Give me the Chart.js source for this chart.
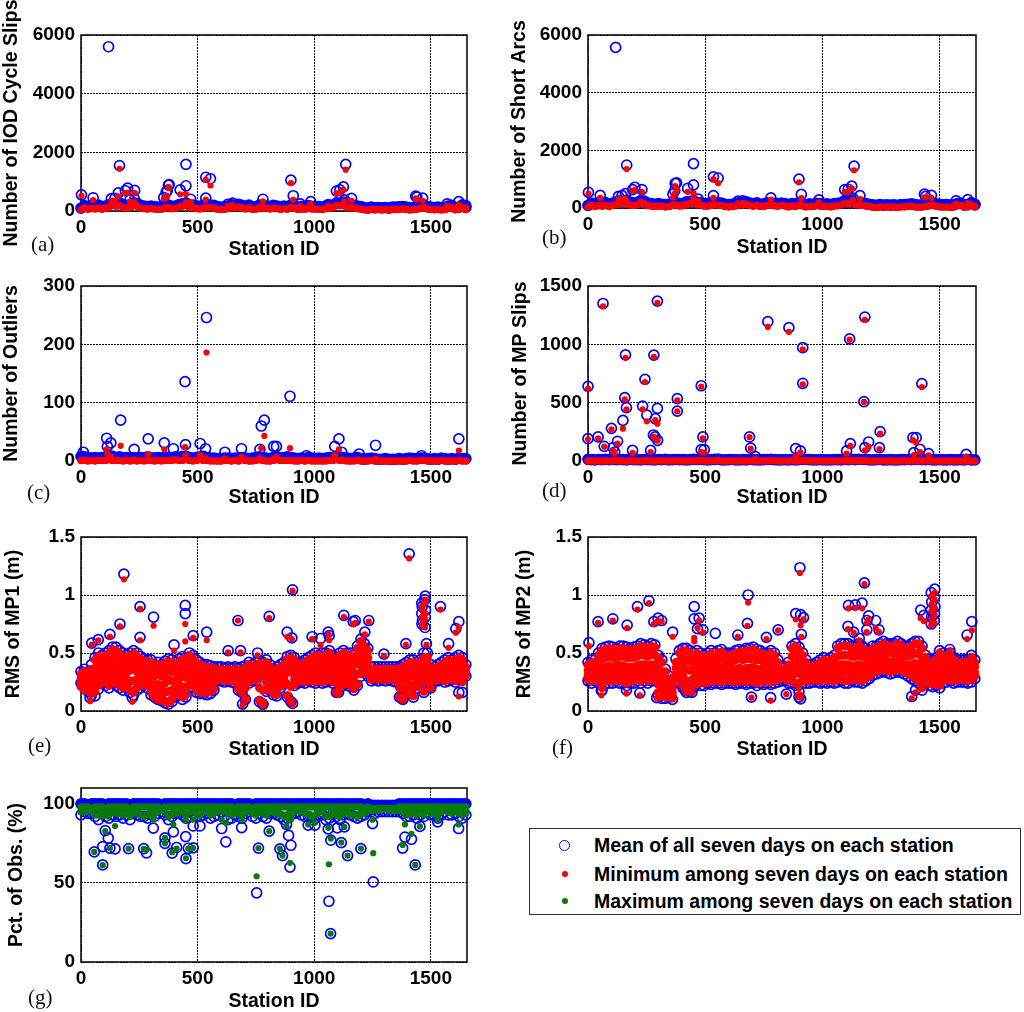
<!DOCTYPE html>
<html>
<head>
<meta charset="utf-8">
<script src="https://cdn.jsdelivr.net/npm/chart.js@4"></script>
<style>
  html, body { margin: 0; background: #fff; width: 1024px; height: 1012px; overflow: hidden; }
  canvas { position: absolute; }
  .tag { position: absolute; font: 21px "Liberation Serif", serif; line-height: 24px; color: #111; }
  #legend { position: absolute; left: 529px; top: 828px; width: 490px; height: 85px; border: 1.5px solid #333; background: #fff; }
  #legend div { position: absolute; left: 64px; font: bold 19.5px "Liberation Sans", Arial, sans-serif; line-height: 22px; white-space: nowrap; color: #000; }
  #legend i { position: absolute; border-radius: 50%; box-sizing: border-box; }
</style>
</head>
<body>
<canvas id="chartA" width="490" height="265" style="left:0;top:0"></canvas>
<canvas id="chartB" width="490" height="265" style="left:500px;top:0"></canvas>
<canvas id="chartC" width="490" height="250" style="left:0;top:265px"></canvas>
<canvas id="chartD" width="490" height="250" style="left:500px;top:265px"></canvas>
<canvas id="chartE" width="490" height="250" style="left:0;top:515px"></canvas>
<canvas id="chartF" width="490" height="250" style="left:500px;top:515px"></canvas>
<canvas id="chartG" width="490" height="257" style="left:0;top:765px"></canvas>
<div id="legend"></div>
<script>
const xTicks = [0, 500, 1000, 1500];
const legendNames = ["Mean of all seven days on each station", "Minimum among seven days on each station", "Maximum among seven days on each station"];

// one entry stands for a small group of neighbouring stations
const stationIds = [0,15,30,45,60,75,90,105,120,135,
  150,165,180,195,210,225,240,255,270,285,
  300,315,330,345,360,375,390,405,420,435,
  450,465,480,495,510,525,540,555,570,585,
  600,615,630,645,660,675,690,705,720,735,
  750,765,780,795,810,825,840,855,870,885,
  900,915,930,945,960,975,990,1005,1020,1035,
  1050,1065,1080,1095,1110,1125,1140,1155,1170,1185,
  1200,1215,1230,1245,1260,1275,1290,1305,1320,1335,
  1350,1365,1380,1395,1410,1425,1440,1455,1470,1485,
  1500,1515,1530,1545,1560,1575,1590,1605,1620,1635,1650];

// (a) IOD cycle slips
const aMean = [100,180,150,190,170,200,150,170,220,260,240,280,210,190,200,280,260,190,170,150,
  170,150,130,140,180,200,160,170,220,240,280,210,200,170,160,190,210,200,190,150,
  130,140,170,210,200,230,190,160,200,140,150,200,180,170,160,190,170,130,170,150,
  200,170,130,150,140,180,160,140,150,130,170,180,200,280,260,300,210,200,190,170,
  150,120,100,130,110,120,110,120,100,130,130,140,150,130,110,120,140,170,200,150,
  130,120,130,110,120,170,190,120,130,210,120];
const aMin = [40,110,60,90,70,100,60,100,130,200,170,190,110,100,120,220,160,90,80,70,
  80,70,50,60,100,120,80,90,140,170,210,120,110,80,70,100,120,110,100,60,
  50,60,80,120,110,140,100,70,110,60,60,110,100,90,70,100,90,50,80,60,
  120,90,50,60,60,100,70,60,60,50,80,90,120,190,180,210,120,110,100,80,
  60,40,30,50,40,50,40,50,30,50,50,60,70,50,40,50,60,90,110,70,
  50,40,50,40,50,90,100,40,50,120,50];
const aOutX = [118,165,2,52,160,200,190,230,130,145,375,378,365,370,355,425,450,450,470,535,555,535,780,650,630,900,910,940,985,1095,1110,1125,1135,1130,1160,1060,1435,1440,1465,1570,1620,1650,230,210];
const aOutMean = [5600,1550,550,450,620,780,690,700,420,430,880,900,640,700,460,720,860,1590,400,1150,1100,440,400,270,230,1050,520,240,320,680,720,820,1590,380,430,220,510,470,440,240,320,180,400,380];
const aOutMin = [100,1440,520,370,500,620,620,620,330,340,820,780,440,520,420,570,580,300,300,1070,870,390,330,200,180,950,380,170,240,600,620,730,1410,330,350,180,430,400,350,180,220,120,300,320];

// (b) short arcs
const bMean = [90,170,140,180,160,190,140,170,210,250,230,270,200,180,190,260,240,170,150,130,
  150,130,120,130,170,190,150,160,210,230,260,190,180,150,150,170,190,180,170,130,
  120,130,160,190,180,210,170,150,180,130,140,180,170,160,150,170,150,120,150,140,
  180,150,120,140,130,160,150,130,140,120,150,160,180,260,240,280,190,180,170,150,
  130,110,90,120,100,110,100,110,90,120,120,130,140,120,100,110,130,150,180,140,
  120,110,120,100,110,150,170,110,120,190,110];
const bMin = [40,100,50,80,60,90,50,90,120,190,160,180,100,90,110,200,150,80,70,60,
  70,60,40,50,90,110,70,80,130,160,190,110,100,70,60,90,110,100,90,50,
  40,50,70,110,100,130,90,60,100,50,50,100,90,80,60,90,80,40,70,50,
  110,80,40,50,50,90,60,50,50,40,70,80,110,170,160,190,110,100,90,70,
  50,30,20,40,30,40,30,40,20,40,40,50,60,40,30,40,50,80,100,60,
  40,30,40,30,40,80,90,30,40,110,40];
const bOutX = [118,165,2,52,160,200,190,230,130,145,372,378,362,370,425,450,450,470,535,555,535,780,640,660,900,910,985,1095,1110,1125,1135,1130,1160,1435,1440,1465,1570,1620,1650];
const bOutMean = [5570,1490,540,440,500,720,640,640,400,430,850,870,480,600,680,800,1540,310,1080,1040,430,350,240,250,1000,470,280,640,650,760,1450,340,430,480,400,440,250,290,130];
const bOutMin = [100,1350,500,350,330,620,600,560,300,320,760,650,360,500,560,520,300,250,1000,860,350,290,170,180,890,340,200,560,560,680,1310,280,310,370,370,350,150,170,80];

// (c) outliers
const cMean = [8,7,6,5,6,5,6,7,9,8,6,7,5,6,5,6,5,6,5,7,
  6,5,6,5,7,6,6,7,6,8,8,6,5,6,7,8,6,5,5,4,
  4,5,5,4,5,4,6,5,4,5,6,7,6,5,4,6,7,5,6,7,
  6,5,4,5,4,6,5,4,5,4,5,6,6,8,7,6,5,4,5,6,
  4,3,4,5,4,3,3,4,3,3,3,4,3,4,5,4,4,5,5,4,
  3,4,3,5,4,3,4,3,5,4,4];
const cMin = [1,1,0,1,0,1,1,1,2,1,1,1,0,1,0,1,0,1,0,1,
  1,0,1,0,1,1,1,2,1,1,2,1,0,1,2,1,1,0,0,0,
  0,1,1,0,1,0,2,1,0,0,1,2,1,0,0,1,2,1,1,1,
  1,0,0,1,0,1,0,0,0,0,0,1,1,2,1,1,0,0,0,1,
  0,0,0,1,0,0,0,0,0,0,0,0,0,0,1,0,0,1,1,0,
  0,0,0,1,0,0,0,0,1,0,0];
const cOutX = [538,446,896,170,786,773,1106,1620,1263,110,113,128,288,357,228,396,448,511,534,617,688,767,838,826,1088,1118,1193,10,967,1460];
const cOutMean = [246,136,111,70,70,60,38,38,27,39,25,31,38,31,20,21,28,30,21,15,21,20,25,25,25,15,12,15,9,9];
const cOutMin = [186,24,22,26,43,22,20,18,4,20,12,8,12,20,3,3,10,10,5,4,7,5,7,4,10,3,3,3,2,2];

// (d) MP slips
const dMean = [14,12,10,13,11,14,12,15,11,13,12,10,14,12,11,10,13,12,11,10,
  13,11,14,10,12,13,11,12,10,12,14,13,15,11,9,12,14,16,10,9,
  11,13,10,9,12,10,13,12,9,10,11,13,15,12,10,9,11,10,12,9,
  11,14,13,12,10,9,11,10,9,10,11,12,10,13,11,14,12,15,13,14,
  10,9,11,13,10,9,12,10,9,11,12,13,11,14,13,12,11,13,10,9,
  11,9,10,12,9,10,11,9,13,10,9];
const dMin = [2,1,0,2,1,3,1,3,2,2,2,1,2,1,1,0,2,2,1,0,
  2,1,2,0,1,2,1,2,0,1,3,2,5,1,0,2,3,5,1,0,
  1,2,0,0,2,0,2,2,0,1,1,2,4,2,1,0,1,0,2,0,
  1,3,2,2,1,0,1,0,0,1,1,2,1,3,1,4,2,3,2,3,
  0,0,1,2,1,0,2,0,0,1,2,2,1,3,2,2,1,2,1,0,
  1,0,1,2,0,1,1,0,2,1,0];
const dOutX = [64,296,0,160,281,243,157,164,233,251,287,296,149,100,381,381,483,0,43,69,126,107,114,279,286,297,267,190,490,483,496,689,694,714,767,857,916,916,886,906,1116,1181,1177,1424,1246,1243,1119,1103,1197,1181,1386,1400,1416,1390,1453,1613];
const dOutMean = [1350,1370,640,910,908,700,543,457,470,394,362,451,348,280,534,428,645,191,206,126,169,114,77,223,206,177,91,91,206,97,97,206,111,37,1194,1143,971,666,106,86,1046,1234,509,663,251,114,149,86,163,114,200,200,100,71,63,57];
const dOutMin = [1325,1355,620,885,893,677,528,443,443,340,350,320,277,271,520,425,637,186,194,123,149,86,66,209,197,174,77,69,194,77,71,204,106,20,1149,1106,957,657,40,71,1040,1209,506,634,234,103,129,63,123,91,180,157,77,50,49,37];

// (e) RMS of MP1
const eMeanHi = [.34,.36,.33,.4,.46,.5,.48,.5,.52,.55,.55,.52,.5,.48,.5,.52,.5,.47,.45,.44,
  .44,.4,.42,.4,.43,.45,.44,.42,.45,.47,.46,.5,.48,.44,.42,.4,.4,.39,.38,.38,
  .38,.37,.38,.37,.38,.37,.38,.39,.42,.4,.42,.43,.42,.44,.4,.36,.38,.4,.42,.47,
  .48,.46,.42,.42,.44,.46,.48,.5,.48,.5,.5,.52,.48,.46,.5,.52,.5,.5,.48,.56,
  .62,.58,.54,.38,.38,.38,.38,.38,.38,.38,.38,.38,.4,.42,.44,.44,.42,.44,.5,.5,
  .4,.38,.4,.42,.44,.46,.44,.46,.48,.46,.4];
const eMeanLo = [.24,.2,.17,.14,.13,.19,.24,.22,.2,.24,.22,.2,.18,.2,.16,.14,.18,.2,.24,.2,
  .14,.12,.1,.09,.07,.06,.08,.12,.14,.1,.12,.2,.2,.16,.15,.15,.14,.15,.18,.26,
  .26,.25,.26,.25,.24,.18,.16,.1,.24,.26,.26,.08,.06,.17,.18,.14,.13,.2,.24,.12,
  .08,.22,.24,.25,.24,.26,.25,.24,.26,.24,.25,.26,.24,.16,.2,.22,.24,.21,.18,.22,
  .3,.34,.3,.26,.27,.26,.27,.26,.27,.26,.25,.12,.1,.15,.17,.12,.2,.24,.16,.28,
  .2,.26,.26,.27,.25,.26,.27,.25,.27,.16,.3];
const eMinA = [.32,.34,.3,.36,.44,.47,.46,.48,.5,.53,.52,.5,.47,.46,.48,.5,.47,.45,.43,.42,
  .42,.38,.4,.38,.41,.43,.42,.4,.42,.45,.44,.48,.45,.42,.4,.38,.38,.37,.36,.36,
  .36,.35,.36,.35,.36,.35,.36,.37,.4,.38,.4,.41,.4,.42,.38,.34,.36,.38,.4,.45,
  .46,.44,.4,.4,.42,.44,.46,.48,.46,.48,.48,.5,.46,.44,.48,.5,.48,.48,.46,.54,
  .6,.56,.52,.36,.36,.36,.36,.36,.36,.36,.36,.36,.38,.4,.42,.42,.4,.42,.46,.46,
  .38,.36,.38,.4,.42,.44,.42,.44,.46,.44,.38];
const eMinB = [.28,.3,.27,.3,.37,.4,.39,.42,.43,.46,.45,.44,.4,.39,.42,.43,.4,.38,.37,.36,
  .35,.3,.32,.3,.33,.36,.34,.33,.36,.38,.37,.4,.38,.36,.34,.33,.33,.33,.33,.33,
  .33,.33,.33,.32,.33,.32,.33,.34,.36,.34,.36,.36,.35,.37,.34,.3,.32,.34,.36,.39,
  .4,.38,.36,.36,.38,.39,.4,.42,.41,.42,.42,.44,.4,.38,.41,.43,.41,.41,.4,.48,
  .54,.51,.46,.33,.33,.33,.33,.33,.33,.33,.33,.32,.33,.34,.36,.36,.35,.37,.4,.4,
  .34,.33,.34,.36,.37,.38,.37,.38,.4,.38,.35];
const eMinC = [.25,.26,.24,.25,.3,.33,.33,.35,.36,.38,.38,.37,.34,.33,.35,.36,.34,.32,.31,.3,
  .27,.22,.23,.21,.24,.27,.26,.26,.28,.3,.29,.33,.31,.28,.27,.27,.28,.3,.3,.3,
  .31,.3,.3,.3,.3,.29,.3,.31,.32,.31,.32,.3,.3,.32,.3,.27,.28,.3,.32,.33,
  .34,.33,.31,.32,.33,.34,.34,.36,.35,.36,.36,.38,.34,.32,.35,.36,.35,.34,.33,.41,
  .47,.45,.41,.31,.31,.31,.31,.3,.31,.3,.3,.27,.27,.28,.3,.3,.3,.32,.34,.34,
  .3,.3,.31,.32,.33,.33,.33,.33,.34,.32,.33];
const eMinD = [.21,.18,.2,.15,.17,.22,.26,.24,.22,.26,.24,.22,.2,.22,.18,.16,.2,.22,.26,.22,
  .16,.12,.1,.09,.08,.07,.1,.14,.16,.12,.14,.22,.22,.18,.16,.16,.16,.17,.19,.27,
  .27,.26,.27,.26,.25,.19,.16,.1,.25,.27,.27,.09,.07,.18,.19,.15,.14,.21,.25,.13,
  .08,.23,.25,.26,.25,.27,.26,.25,.27,.25,.26,.27,.25,.16,.2,.23,.25,.22,.19,.23,
  .32,.36,.32,.27,.28,.27,.28,.27,.28,.27,.26,.12,.1,.15,.17,.13,.21,.25,.17,.29,
  .2,.27,.27,.28,.26,.27,.28,.26,.28,.25,.31];
const eMinE = [.23,.22,.22,.2,.23,.27,.29,.29,.29,.32,.31,.29,.27,.27,.26,.26,.27,.27,.28,.26,
  .21,.17,.16,.15,.16,.17,.18,.2,.22,.21,.21,.27,.26,.23,.21,.21,.22,.24,.25,.28,
  .29,.28,.28,.28,.27,.24,.23,.2,.28,.29,.29,.2,.18,.25,.25,.21,.21,.25,.28,.23,
  .21,.28,.28,.29,.29,.3,.3,.3,.31,.3,.31,.32,.29,.24,.27,.29,.3,.28,.26,.32,
  .39,.4,.36,.29,.29,.29,.29,.28,.29,.28,.28,.2,.19,.21,.23,.21,.25,.28,.25,.31,
  .25,.28,.29,.3,.29,.3,.3,.29,.31,.28,.32];
const eOutX = [184,253,311,447,447,167,539,673,807,907,884,904,991,1027,1060,1064,1127,1167,1176,1234,1217,1407,1541,1620,1607,1481,1393,1576,481,46,74,124,253,399,631,684,757,1299,1620,220,39,693,779,907,1104,1379,1461,1476,1463,1474,1461,1477,1464,1476,1462,1475];
const eOutMean = [1.18,.9,.81,.91,.84,.75,.68,.78,.815,1.045,.68,.63,.64,.625,.68,.65,.825,.77,.78,.78,.68,1.355,.9,.77,.71,.58,.58,.58,.65,.585,.615,.66,.635,.57,.52,.52,.5,.49,.16,.115,.115,.06,.06,.065,.16,.11,.93,.99,.9,.96,.84,.87,.78,.81,.75,.72];
const eOutMin = [1.135,.88,.735,.6,.75,.73,.61,.78,.8,1.035,.64,.62,.62,.57,.66,.61,.81,.75,.76,.77,.66,1.315,.875,.72,.675,.57,.57,.545,.63,.57,.61,.64,.61,.52,.505,.505,.48,.475,.125,.08,.085,.05,.045,.055,.14,.095,.9,.96,.87,.93,.81,.84,.76,.79,.74,.72];

// (f) RMS of MP2
const fMeanHi = [.42,.44,.44,.5,.54,.55,.56,.55,.54,.56,.56,.55,.54,.55,.56,.58,.57,.56,.58,.57,
  .48,.44,.36,.3,.27,.45,.52,.54,.54,.52,.5,.52,.5,.48,.5,.52,.5,.52,.53,.5,
  .5,.5,.52,.53,.52,.54,.54,.55,.53,.52,.5,.5,.52,.5,.44,.38,.38,.42,.56,.58,
  .55,.5,.44,.4,.4,.42,.44,.46,.44,.46,.48,.56,.58,.58,.58,.56,.56,.58,.56,.54,
  .52,.56,.56,.58,.6,.58,.58,.58,.6,.58,.56,.56,.58,.6,.6,.56,.48,.44,.44,.46,
  .52,.5,.48,.5,.46,.44,.44,.44,.44,.48,.44];
const fMeanLo = [.26,.24,.26,.24,.18,.24,.24,.24,.26,.24,.24,.22,.24,.24,.26,.24,.26,.24,.26,.26,
  .14,.11,.11,.12,.1,.26,.24,.2,.16,.17,.2,.26,.22,.22,.24,.23,.24,.24,.23,.24,
  .24,.24,.23,.24,.24,.23,.24,.24,.22,.24,.23,.24,.23,.24,.25,.26,.26,.24,.24,.22,
  .12,.24,.24,.24,.25,.25,.24,.25,.24,.25,.24,.25,.26,.24,.24,.26,.25,.25,.24,.26,
  .28,.31,.32,.33,.34,.33,.32,.33,.34,.33,.32,.3,.28,.26,.24,.18,.24,.22,.21,.22,
  .2,.24,.25,.26,.24,.25,.25,.25,.24,.25,.28];
const fMinA = [.4,.42,.42,.48,.52,.53,.54,.53,.52,.54,.54,.53,.52,.53,.54,.56,.55,.54,.56,.55,
  .46,.42,.34,.27,.24,.42,.5,.52,.52,.5,.48,.5,.48,.46,.48,.5,.48,.5,.51,.48,
  .48,.48,.5,.51,.5,.52,.52,.53,.51,.5,.48,.48,.5,.48,.42,.36,.36,.4,.54,.56,
  .53,.48,.42,.38,.38,.4,.42,.44,.42,.44,.46,.54,.56,.56,.56,.54,.54,.56,.54,.52,
  .5,.54,.54,.56,.58,.56,.56,.56,.58,.56,.54,.54,.56,.58,.58,.54,.46,.42,.42,.44,
  .5,.48,.46,.48,.44,.42,.42,.42,.42,.46,.42];
const fMinB = [.35,.37,.37,.42,.45,.46,.47,.46,.45,.47,.47,.46,.46,.46,.47,.49,.48,.47,.49,.48,
  .38,.34,.27,.22,.2,.37,.43,.45,.44,.43,.42,.44,.42,.41,.42,.44,.42,.44,.45,.42,
  .42,.43,.44,.45,.44,.45,.45,.46,.44,.44,.42,.42,.44,.42,.37,.33,.33,.36,.47,.48,
  .45,.42,.38,.35,.35,.36,.38,.39,.38,.39,.41,.47,.48,.48,.48,.47,.47,.48,.47,.46,
  .45,.48,.48,.5,.51,.5,.5,.5,.51,.5,.47,.47,.48,.5,.49,.46,.4,.37,.37,.39,
  .43,.42,.4,.42,.39,.37,.37,.38,.38,.41,.38];
const fMinC = [.31,.32,.32,.35,.37,.38,.39,.38,.38,.39,.39,.38,.38,.38,.39,.4,.4,.39,.4,.4,
  .3,.26,.2,.17,.16,.32,.36,.38,.36,.35,.35,.37,.35,.34,.35,.37,.35,.37,.37,.35,
  .35,.36,.36,.37,.36,.37,.37,.38,.36,.36,.35,.35,.37,.35,.32,.3,.3,.31,.39,.4,
  .36,.35,.33,.31,.31,.32,.33,.34,.33,.34,.35,.39,.4,.4,.4,.39,.39,.4,.39,.39,
  .39,.42,.42,.43,.44,.43,.42,.43,.44,.43,.4,.39,.4,.41,.4,.37,.33,.31,.31,.33,
  .36,.35,.34,.35,.33,.32,.32,.33,.33,.35,.33];
const fMinD = [.27,.26,.28,.26,.2,.26,.26,.26,.28,.26,.26,.24,.26,.26,.28,.26,.28,.26,.28,.28,
  .16,.12,.12,.13,.11,.28,.26,.22,.17,.18,.22,.28,.24,.24,.26,.25,.26,.26,.25,.26,
  .26,.26,.25,.26,.26,.25,.26,.26,.24,.26,.25,.26,.25,.26,.27,.28,.28,.26,.26,.24,
  .13,.26,.26,.26,.27,.27,.26,.27,.26,.27,.26,.27,.28,.26,.26,.28,.27,.27,.26,.28,
  .3,.33,.34,.35,.36,.35,.34,.35,.36,.35,.34,.32,.3,.28,.26,.2,.26,.24,.23,.24,
  .22,.26,.27,.28,.26,.27,.27,.27,.26,.27,.3];
const fMinE = [.29,.29,.3,.3,.28,.32,.32,.32,.33,.32,.32,.31,.32,.32,.33,.33,.34,.32,.34,.34,
  .23,.19,.16,.15,.13,.3,.31,.3,.26,.26,.28,.32,.29,.29,.3,.31,.3,.31,.31,.3,
  .3,.31,.3,.31,.31,.31,.31,.32,.3,.31,.3,.3,.31,.3,.29,.29,.29,.28,.32,.32,
  .24,.3,.29,.28,.29,.29,.29,.3,.29,.3,.3,.33,.34,.33,.33,.33,.33,.33,.32,.33,
  .34,.37,.38,.39,.4,.39,.38,.39,.4,.39,.37,.35,.35,.34,.33,.28,.29,.27,.27,.28,
  .29,.3,.3,.31,.29,.29,.29,.3,.29,.31,.31];
const fOutX = [4,43,106,167,211,260,281,299,314,361,453,453,474,467,490,543,683,680,639,811,761,904,886,907,919,910,1179,1111,1140,1169,1109,1133,1197,1190,1189,1227,1241,1157,1419,1433,1617,1637,1543,1381,1397,57,221,164,293,697,779,846,907,900,414,443,1464,1479,1466,1478,1464,1480,1465,1478,1464,1477];
const fOutMean = [.59,.77,.795,.74,.9,.95,.77,.8,.78,.68,.9,.795,.8,.71,.7,.67,1,.755,.655,.7,.635,1.235,.84,.83,.805,.66,1.105,.91,.915,.93,.73,.68,.82,.78,.7,.78,.7,.625,.87,.825,.655,.77,.53,.125,.18,.175,.155,.18,.115,.12,.115,.145,.105,.165,.18,.16,1.02,1.05,.94,.98,.87,.9,.81,.84,.75,.78];
const fOutMin = [.56,.76,.78,.715,.875,.93,.75,.78,.77,.64,.63,.6,.78,.715,.675,.36,.935,.735,.64,.695,.62,1.19,.79,.74,.79,.64,1.095,.885,.89,.885,.705,.675,.79,.76,.68,.715,.68,.61,.8,.775,.62,.695,.52,.11,.16,.135,.135,.15,.11,.115,.09,.145,.115,.195,.17,.155,.99,1.02,.92,.96,.86,.89,.79,.83,.74,.76];

// (g) percent of observations
const gMeanHi = [100,100,99,100,100,100,100,99,100,100,100,100,100,100,99,100,100,100,100,100,
  100,100,100,99,100,100,100,100,100,100,100,100,100,100,100,100,100,100,100,100,
  100,100,100,100,99,100,100,100,100,99,100,100,100,100,100,100,100,100,100,100,
  100,100,100,100,100,100,100,100,100,100,100,100,100,100,100,100,100,100,100,100,
  100,99,100,99,99,99,99,99,99,99,99,100,100,100,100,100,100,100,100,100,
  100,100,100,100,100,100,100,100,100,100,100];
const gMeanLo = [93,95,94,94,92,90,94,92,91,93,92,93,91,93,90,94,93,92,92,91,
  93,92,94,95,93,90,92,94,94,93,91,95,94,92,92,93,94,91,92,93,
  95,92,90,91,93,92,91,94,95,92,91,94,92,91,94,94,93,92,90,91,
  93,94,95,93,92,92,90,91,93,93,90,91,94,92,90,93,94,93,92,91,
  92,93,95,95,94,95,95,95,95,95,95,95,94,92,92,93,91,93,92,95,
  93,93,91,93,95,93,93,94,92,91,93];
const gMaxA = [98,98,98,97,98,98,98,97,98,98,98,98,98,98,97,98,98,98,98,98,
  98,98,98,97,98,98,98,98,98,98,98,98,98,98,98,98,98,98,98,98,
  98,98,98,98,97,98,98,98,98,97,98,98,98,98,98,98,98,98,98,98,
  98,98,98,98,98,98,98,98,98,98,98,98,98,98,98,98,98,98,98,98,
  98,97,98,97,97,97,97,97,97,97,97,98,98,98,98,98,98,98,98,98,
  98,98,98,98,98,98,98,98,98,98,98];
const gMaxB = [95,95,96,96,93,93,95,93,93,95,94,94,93,95,92,95,94,93,92,93,
  94,94,95,96,95,92,93,94,95,95,93,95,95,94,95,95,96,93,94,95,
  96,95,94,93,95,94,93,95,96,94,93,95,94,93,95,95,94,93,92,93,
  93,95,96,95,94,93,92,93,95,95,92,92,95,94,92,94,95,93,93,92,
  94,94,96,96,96,96,97,97,96,96,96,96,95,93,94,94,93,94,93,96,
  94,94,93,95,96,95,94,95,94,93,94];
const gOutX = [57,93,104,117,93,124,146,204,269,281,310,360,360,396,391,410,449,450,460,481,481,621,807,753,761,853,864,896,890,900,881,1063,1070,1071,1116,1143,1200,1253,1250,1379,1389,1417,1433,1453,1619,1529,1003,689,510,603,1099,1129,1060,974];
const gOutMean = [69.6,61.4,83,78.3,73,72,71.5,71.7,71.7,69,84.6,78.5,75,82.3,68.8,72.4,79.3,65.4,71.9,72.2,86,76,82.7,43.7,72,71.5,67.3,60,80,73.8,87,38.4,18,77,75.5,67.3,71.7,50.6,87.5,72,79,77.6,61.4,85.7,84.4,88.6,86.5,85,86,84.4,84.8,85.4,84.2,86.5];
const gOutMax = [69.6,61.2,82.7,92,92,72,85.9,71.7,71.5,71,90,78.5,75,87,69.4,71.7,90,65.6,71.7,72,90,88,82.7,54.2,72,71.7,67.3,62.7,90,90,85.9,61.8,18,78,75.5,67.3,71.7,68.8,90,74,87,81,61.4,85.7,87,90,88,90,92,90,92,85.4,84.8,87];

// bold Arial look, like the MATLAB figures
const boldFont = { family: '"Liberation Sans", Arial, sans-serif', size: 19, weight: "bold" };
const titleFont = { family: '"Liberation Sans", Arial, sans-serif', size: 19.5, weight: "bold" };
const blue = "#0000ff";
const red = "#ff0000";
const green = "#0a7a0a";

function pts(xs, ys) {
  return xs.map((x, i) => ({ x: x, y: ys[i] }));
}

// rings overlap so much in the dense rows that they read as solid blue
function ring(data, solid) {
  return { data: data, order: 3, clip: false, pointRadius: 5, pointBorderWidth: 1.7, pointBorderColor: blue, pointBackgroundColor: solid ? blue : "transparent" };
}

function dot(data, color, radius) {
  return { data: data, order: 1, clip: false, pointRadius: radius || 3.1, pointBorderWidth: 0, pointBackgroundColor: color };
}

// plot frame on top of the grid, under the markers
const framePlugin = {
  id: "frame",
  beforeDatasetsDraw(chart) {
    const a = chart.chartArea;
    const c = chart.ctx;
    c.save();
    c.strokeStyle = "#000";
    c.lineWidth = 1.5;
    c.strokeRect(a.left, a.top, a.right - a.left, a.bottom - a.top);
    c.restore();
  },
};

function makeChart(id, opt) {
  return new Chart(document.getElementById(id), {
    type: "scatter",
    data: { datasets: opt.datasets },
    plugins: [framePlugin],
    options: {
      responsive: false,
      animation: false,
      events: [],
      layout: { padding: { top: opt.top, right: opt.right, left: 0, bottom: 0 } },
      plugins: { legend: { display: false }, tooltip: { enabled: false } },
      scales: {
        x: {
          type: "linear",
          min: 0,
          max: 1655,
          afterBuildTicks: (s) => { s.ticks = xTicks.map((v) => ({ value: v })); },
          afterFit: (s) => { s.height = opt.xHeight; },
          grid: { color: "#000", lineWidth: 1, drawTicks: false },
          border: { display: false, dash: [2, 1] },
          ticks: { color: "#000", font: boldFont, padding: 5, maxRotation: 0, autoSkip: false, callback: (v) => String(v) },
          title: { display: true, text: "Station ID", color: "#000", font: titleFont, padding: { top: 0, bottom: opt.xTitlePad } },
        },
        y: {
          type: "linear",
          min: opt.yTicks[0],
          max: opt.yMax,
          afterBuildTicks: (s) => { s.ticks = opt.yTicks.map((v) => ({ value: v })); },
          afterFit: (s) => { s.width = opt.yWidth; },
          grid: { color: "#000", lineWidth: 1, drawTicks: false },
          border: { display: false, dash: [2, 1] },
          ticks: { color: "#000", font: boldFont, padding: 6, autoSkip: false, callback: (v) => String(v) },
          title: { display: true, text: opt.yTitle, color: "#000", font: titleFont, padding: { top: opt.yTitlePad, bottom: 0 } },
        },
      },
    },
  });
}

const bandRed = 3.7;
const fillRed = 4.4;

makeChart("chartA", {
  top: 35, right: 23, xHeight: 54, yWidth: 81, xTitlePad: 4, yTitlePad: 0,
  yTitle: "Number of IOD Cycle Slips", yTicks: [0, 2000, 4000, 6000], yMax: 6000,
  datasets: [ring(pts(stationIds, aMean), true), ring(pts(aOutX, aOutMean)), dot(pts(stationIds, aMin), red, bandRed), dot(pts(aOutX, aOutMin), red)],
});
makeChart("chartB", {
  top: 35, right: 14, xHeight: 57, yWidth: 88, xTitlePad: 6, yTitlePad: 8,
  yTitle: "Number of Short Arcs", yTicks: [0, 2000, 4000, 6000], yMax: 6000,
  datasets: [ring(pts(stationIds, bMean), true), ring(pts(bOutX, bOutMean)), dot(pts(stationIds, bMin), red, bandRed), dot(pts(bOutX, bOutMin), red)],
});
makeChart("chartC", {
  top: 21, right: 23, xHeight: 54, yWidth: 81, xTitlePad: 6, yTitlePad: 0,
  yTitle: "Number of Outliers", yTicks: [0, 100, 200, 300], yMax: 300,
  datasets: [ring(pts(stationIds, cMean), true), ring(pts(cOutX, cOutMean)), dot(pts(stationIds, cMin), red, bandRed), dot(pts(cOutX, cOutMin), red)],
});
makeChart("chartD", {
  top: 21, right: 14, xHeight: 54, yWidth: 88, xTitlePad: 6, yTitlePad: 9,
  yTitle: "Number of MP Slips", yTicks: [0, 500, 1000, 1500], yMax: 1500,
  datasets: [ring(pts(stationIds, dMean), true), ring(pts(dOutX, dOutMean)), dot(pts(stationIds, dMin), red, bandRed), dot(pts(dOutX, dOutMin), red)],
});
makeChart("chartE", {
  top: 22, right: 23, xHeight: 54, yWidth: 81, xTitlePad: 4, yTitlePad: 2,
  yTitle: "RMS of MP1 (m)", yTicks: [0, 0.5, 1, 1.5], yMax: 1.5,
  datasets: [ring(pts(stationIds, eMeanHi)), ring(pts(stationIds, eMeanLo)), ring(pts(eOutX, eOutMean)),
    dot(pts(stationIds, eMinA), red, fillRed), dot(pts(stationIds, eMinB), red, fillRed), dot(pts(stationIds, eMinC), red, fillRed), dot(pts(stationIds, eMinE), red, fillRed), dot(pts(stationIds, eMinD), red, fillRed), dot(pts(eOutX, eOutMin), red)],
});
makeChart("chartF", {
  top: 22, right: 14, xHeight: 54, yWidth: 88, xTitlePad: 4, yTitlePad: 13,
  yTitle: "RMS of MP2 (m)", yTicks: [0, 0.5, 1, 1.5], yMax: 1.5,
  datasets: [ring(pts(stationIds, fMeanHi)), ring(pts(stationIds, fMeanLo)), ring(pts(fOutX, fOutMean)),
    dot(pts(stationIds, fMinA), red, fillRed), dot(pts(stationIds, fMinB), red, fillRed), dot(pts(stationIds, fMinC), red, fillRed), dot(pts(stationIds, fMinE), red, fillRed), dot(pts(stationIds, fMinD), red, fillRed), dot(pts(fOutX, fOutMin), red)],
});
makeChart("chartG", {
  top: 23, right: 23, xHeight: 60, yWidth: 81, xTitlePad: 9, yTitlePad: 5,
  yTitle: "Pct. of Obs. (%)", yTicks: [0, 50, 100], yMax: 110,
  datasets: [ring(pts(stationIds, gMeanHi), true), ring(pts(stationIds, gMeanLo)), ring(pts(gOutX, gOutMean)),
    dot(pts(stationIds, gMaxA), green, bandRed), dot(pts(stationIds, gMaxB), green, bandRed), dot(pts(gOutX, gOutMax), green)],
});

// panel letters
const tags = [["(a)", 31, 232], ["(b)", 542, 225], ["(c)", 27, 480], ["(d)", 542, 478], ["(e)", 28, 733], ["(f)", 552, 735], ["(g)", 28, 985]];
tags.forEach((t) => {
  const el = document.createElement("div");
  el.className = "tag";
  el.textContent = t[0];
  el.style.left = t[1] + "px";
  el.style.top = t[2] + "px";
  document.body.appendChild(el);
});

// legend box
const legend = document.getElementById("legend");
const markerStyles = [
  "left:29px;width:11px;height:11px;border:1.5px solid " + blue,
  "left:31.5px;width:6px;height:6px;background:" + red,
  "left:31.5px;width:6px;height:6px;background:" + green,
];
const rowTops = [16, 45, 72];
legendNames.forEach((name, i) => {
  const row = document.createElement("div");
  row.textContent = name;
  row.style.top = (rowTops[i] - 11) + "px";
  legend.appendChild(row);
  const mark = document.createElement("i");
  mark.style.cssText = markerStyles[i] + ";top:" + (rowTops[i] - (i === 0 ? 5.5 : 3)) + "px";
  legend.appendChild(mark);
});
</script>
</body>
</html>
